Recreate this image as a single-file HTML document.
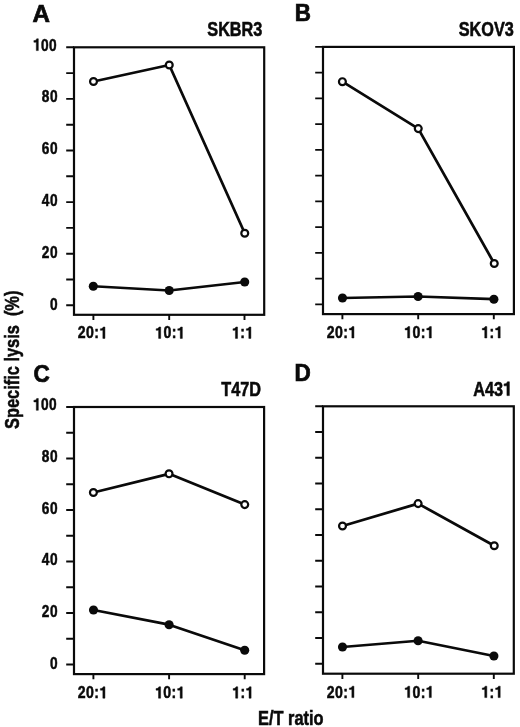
<!DOCTYPE html>
<html><head><meta charset="utf-8"><title>Figure</title>
<style>
html,body{margin:0;padding:0;background:#fff;}
svg{display:block;will-change:transform;opacity:.999;filter:blur(.4px)}
text{font-family:"Liberation Sans",sans-serif;font-weight:bold;fill:#0a0a0a}
.tk{font-size:16.2px;stroke:#0a0a0a;stroke-width:.5px}
.g1{fill:#0a0a0a;stroke:#0a0a0a;stroke-width:30}
.tk2{font-size:16.8px;stroke:#0a0a0a;stroke-width:.5px}
.pl{font-size:23px;stroke:#0a0a0a;stroke-width:.7px}
.tt{font-size:19.6px;stroke:#0a0a0a;stroke-width:.55px}
.ax{font-size:20px;stroke:#0a0a0a;stroke-width:.55px}
</style></head><body>
<svg width="520" height="727" viewBox="0 0 520 727">
<rect width="520" height="727" fill="#fff"/>
<rect x="74.0" y="47.3" width="190.20" height="267.50" fill="none" stroke="#0a0a0a" stroke-width="2.2"/>
<path d="M66.20 47.30H74.00M66.20 73.10H74.00M66.20 98.90H74.00M66.20 124.70H74.00M66.20 150.50H74.00M66.20 176.30H74.00M66.20 202.10H74.00M66.20 227.90H74.00M66.20 253.70H74.00M66.20 279.50H74.00M66.20 305.30H74.00M93.40 314.80V320.00M169.20 314.80V320.00M244.50 314.80V320.00" stroke="#0a0a0a" stroke-width="1.9" fill="none"/>
<polyline points="93.5,81.5 169.25,65.0 244.75,233.25" fill="none" stroke="#0a0a0a" stroke-width="2.75" stroke-linejoin="round"/>
<circle cx="93.5" cy="81.5" r="3.45" fill="#fff" stroke="#0a0a0a" stroke-width="2.2"/>
<circle cx="169.25" cy="65.0" r="3.45" fill="#fff" stroke="#0a0a0a" stroke-width="2.2"/>
<circle cx="244.75" cy="233.25" r="3.45" fill="#fff" stroke="#0a0a0a" stroke-width="2.2"/>
<polyline points="93.3,286.25 169.2,290.5 244.7,282.0" fill="none" stroke="#0a0a0a" stroke-width="2.75" stroke-linejoin="round"/>
<circle cx="93.3" cy="286.25" r="4.55" fill="#0a0a0a"/>
<circle cx="169.2" cy="290.5" r="4.55" fill="#0a0a0a"/>
<circle cx="244.7" cy="282.0" r="4.55" fill="#0a0a0a"/>
<g transform="translate(92.50 338.40) scale(0.87 1)"><path class="g1" transform="translate(7.93 0) scale(0.01620 -0.01620)" d="M393 0H245V498H69V597C167 597 252 625 275 704H393Z"/><text class="tk" x="-16.94 -7.44 2.05" y="0">20:</text></g>
<g transform="translate(169.90 338.40) scale(0.87 1)"><path class="g1" transform="translate(-16.94 0) scale(0.01620 -0.01620)" d="M393 0H245V498H69V597C167 597 252 625 275 704H393Z"/><path class="g1" transform="translate(7.93 0) scale(0.01620 -0.01620)" d="M393 0H245V498H69V597C167 597 252 625 275 704H393Z"/><text class="tk" x="-7.44 2.05" y="0">0:</text></g>
<g transform="translate(242.60 338.40) scale(0.87 1)"><path class="g1" transform="translate(-12.19 0) scale(0.01620 -0.01620)" d="M393 0H245V498H69V597C167 597 252 625 275 704H393Z"/><path class="g1" transform="translate(3.18 0) scale(0.01620 -0.01620)" d="M393 0H245V498H69V597C167 597 252 625 275 704H393Z"/><text class="tk" x="-2.70" y="0">:</text></g>
<g transform="translate(56.60 50.60) scale(0.815 1)"><path class="g1" transform="translate(-29.03 0) scale(0.01680 -0.01680)" d="M393 0H245V498H69V597C167 597 252 625 275 704H393Z"/><text class="tk2" x="-19.19 -9.34" y="0">00</text></g>
<g transform="translate(57.50 102.40) scale(0.815 1)"><text class="tk2" x="-19.19 -9.34" y="0">80</text></g>
<g transform="translate(57.50 154.00) scale(0.815 1)"><text class="tk2" x="-19.19 -9.34" y="0">60</text></g>
<g transform="translate(57.50 205.70) scale(0.815 1)"><text class="tk2" x="-19.19 -9.34" y="0">40</text></g>
<g transform="translate(57.50 257.80) scale(0.815 1)"><text class="tk2" x="-19.19 -9.34" y="0">20</text></g>
<g transform="translate(57.50 309.50) scale(0.815 1)"><text class="tk2" x="-9.34" y="0">0</text></g>
<rect x="323.0" y="46.9" width="190.90" height="267.20" fill="none" stroke="#0a0a0a" stroke-width="2.2"/>
<path d="M315.20 46.90H323.00M315.20 72.65H323.00M315.20 98.40H323.00M315.20 124.15H323.00M315.20 149.90H323.00M315.20 175.65H323.00M315.20 201.40H323.00M315.20 227.15H323.00M315.20 252.90H323.00M315.20 278.65H323.00M315.20 304.40H323.00M342.40 314.10V319.30M418.20 314.10V319.30M493.80 314.10V319.30" stroke="#0a0a0a" stroke-width="1.9" fill="none"/>
<polyline points="342.4,81.7 418.25,128.6 494.25,263.5" fill="none" stroke="#0a0a0a" stroke-width="2.75" stroke-linejoin="round"/>
<circle cx="342.4" cy="81.7" r="3.45" fill="#fff" stroke="#0a0a0a" stroke-width="2.2"/>
<circle cx="418.25" cy="128.6" r="3.45" fill="#fff" stroke="#0a0a0a" stroke-width="2.2"/>
<circle cx="494.25" cy="263.5" r="3.45" fill="#fff" stroke="#0a0a0a" stroke-width="2.2"/>
<polyline points="342.5,298.0 418.1,296.5 493.9,299.2" fill="none" stroke="#0a0a0a" stroke-width="2.75" stroke-linejoin="round"/>
<circle cx="342.5" cy="298.0" r="4.55" fill="#0a0a0a"/>
<circle cx="418.1" cy="296.5" r="4.55" fill="#0a0a0a"/>
<circle cx="493.9" cy="299.2" r="4.55" fill="#0a0a0a"/>
<g transform="translate(341.50 338.00) scale(0.87 1)"><path class="g1" transform="translate(7.93 0) scale(0.01620 -0.01620)" d="M393 0H245V498H69V597C167 597 252 625 275 704H393Z"/><text class="tk" x="-16.94 -7.44 2.05" y="0">20:</text></g>
<g transform="translate(418.90 338.00) scale(0.87 1)"><path class="g1" transform="translate(-16.94 0) scale(0.01620 -0.01620)" d="M393 0H245V498H69V597C167 597 252 625 275 704H393Z"/><path class="g1" transform="translate(7.93 0) scale(0.01620 -0.01620)" d="M393 0H245V498H69V597C167 597 252 625 275 704H393Z"/><text class="tk" x="-7.44 2.05" y="0">0:</text></g>
<g transform="translate(491.90 338.00) scale(0.87 1)"><path class="g1" transform="translate(-12.19 0) scale(0.01620 -0.01620)" d="M393 0H245V498H69V597C167 597 252 625 275 704H393Z"/><path class="g1" transform="translate(3.18 0) scale(0.01620 -0.01620)" d="M393 0H245V498H69V597C167 597 252 625 275 704H393Z"/><text class="tk" x="-2.70" y="0">:</text></g>
<rect x="74.0" y="407.0" width="190.10" height="267.10" fill="none" stroke="#0a0a0a" stroke-width="2.2"/>
<path d="M66.20 407.00H74.00M66.20 432.75H74.00M66.20 458.50H74.00M66.20 484.25H74.00M66.20 510.00H74.00M66.20 535.75H74.00M66.20 561.50H74.00M66.20 587.25H74.00M66.20 613.00H74.00M66.20 638.75H74.00M66.20 664.50H74.00M93.40 674.10V679.30M169.10 674.10V679.30M244.70 674.10V679.30" stroke="#0a0a0a" stroke-width="1.9" fill="none"/>
<polyline points="93.4,492.5 169.05,473.8 244.75,504.6" fill="none" stroke="#0a0a0a" stroke-width="2.75" stroke-linejoin="round"/>
<circle cx="93.4" cy="492.5" r="3.45" fill="#fff" stroke="#0a0a0a" stroke-width="2.2"/>
<circle cx="169.05" cy="473.8" r="3.45" fill="#fff" stroke="#0a0a0a" stroke-width="2.2"/>
<circle cx="244.75" cy="504.6" r="3.45" fill="#fff" stroke="#0a0a0a" stroke-width="2.2"/>
<polyline points="93.5,610.0 169.1,624.7 244.7,650.3" fill="none" stroke="#0a0a0a" stroke-width="2.75" stroke-linejoin="round"/>
<circle cx="93.5" cy="610.0" r="4.55" fill="#0a0a0a"/>
<circle cx="169.1" cy="624.7" r="4.55" fill="#0a0a0a"/>
<circle cx="244.7" cy="650.3" r="4.55" fill="#0a0a0a"/>
<g transform="translate(92.50 698.20) scale(0.87 1)"><path class="g1" transform="translate(7.93 0) scale(0.01620 -0.01620)" d="M393 0H245V498H69V597C167 597 252 625 275 704H393Z"/><text class="tk" x="-16.94 -7.44 2.05" y="0">20:</text></g>
<g transform="translate(169.80 698.20) scale(0.87 1)"><path class="g1" transform="translate(-16.94 0) scale(0.01620 -0.01620)" d="M393 0H245V498H69V597C167 597 252 625 275 704H393Z"/><path class="g1" transform="translate(7.93 0) scale(0.01620 -0.01620)" d="M393 0H245V498H69V597C167 597 252 625 275 704H393Z"/><text class="tk" x="-7.44 2.05" y="0">0:</text></g>
<g transform="translate(242.80 698.20) scale(0.87 1)"><path class="g1" transform="translate(-12.19 0) scale(0.01620 -0.01620)" d="M393 0H245V498H69V597C167 597 252 625 275 704H393Z"/><path class="g1" transform="translate(3.18 0) scale(0.01620 -0.01620)" d="M393 0H245V498H69V597C167 597 252 625 275 704H393Z"/><text class="tk" x="-2.70" y="0">:</text></g>
<g transform="translate(56.60 410.30) scale(0.815 1)"><path class="g1" transform="translate(-29.03 0) scale(0.01680 -0.01680)" d="M393 0H245V498H69V597C167 597 252 625 275 704H393Z"/><text class="tk2" x="-19.19 -9.34" y="0">00</text></g>
<g transform="translate(57.50 462.00) scale(0.815 1)"><text class="tk2" x="-19.19 -9.34" y="0">80</text></g>
<g transform="translate(57.50 513.50) scale(0.815 1)"><text class="tk2" x="-19.19 -9.34" y="0">60</text></g>
<g transform="translate(57.50 565.10) scale(0.815 1)"><text class="tk2" x="-19.19 -9.34" y="0">40</text></g>
<g transform="translate(57.50 617.10) scale(0.815 1)"><text class="tk2" x="-19.19 -9.34" y="0">20</text></g>
<g transform="translate(57.50 668.70) scale(0.815 1)"><text class="tk2" x="-9.34" y="0">0</text></g>
<rect x="323.0" y="406.3" width="190.80" height="267.40" fill="none" stroke="#0a0a0a" stroke-width="2.2"/>
<path d="M315.20 406.30H323.00M315.20 432.05H323.00M315.20 457.80H323.00M315.20 483.55H323.00M315.20 509.30H323.00M315.20 535.05H323.00M315.20 560.80H323.00M315.20 586.55H323.00M315.20 612.30H323.00M315.20 638.05H323.00M315.20 663.80H323.00M342.40 673.70V678.90M418.20 673.70V678.90M493.80 673.70V678.90" stroke="#0a0a0a" stroke-width="1.9" fill="none"/>
<polyline points="342.5,526.0 418.1,503.6 494.25,545.75" fill="none" stroke="#0a0a0a" stroke-width="2.75" stroke-linejoin="round"/>
<circle cx="342.5" cy="526.0" r="3.45" fill="#fff" stroke="#0a0a0a" stroke-width="2.2"/>
<circle cx="418.1" cy="503.6" r="3.45" fill="#fff" stroke="#0a0a0a" stroke-width="2.2"/>
<circle cx="494.25" cy="545.75" r="3.45" fill="#fff" stroke="#0a0a0a" stroke-width="2.2"/>
<polyline points="342.5,647.0 418.1,640.75 493.9,656.0" fill="none" stroke="#0a0a0a" stroke-width="2.75" stroke-linejoin="round"/>
<circle cx="342.5" cy="647.0" r="4.55" fill="#0a0a0a"/>
<circle cx="418.1" cy="640.75" r="4.55" fill="#0a0a0a"/>
<circle cx="493.9" cy="656.0" r="4.55" fill="#0a0a0a"/>
<g transform="translate(341.50 697.60) scale(0.87 1)"><path class="g1" transform="translate(7.93 0) scale(0.01620 -0.01620)" d="M393 0H245V498H69V597C167 597 252 625 275 704H393Z"/><text class="tk" x="-16.94 -7.44 2.05" y="0">20:</text></g>
<g transform="translate(418.90 697.60) scale(0.87 1)"><path class="g1" transform="translate(-16.94 0) scale(0.01620 -0.01620)" d="M393 0H245V498H69V597C167 597 252 625 275 704H393Z"/><path class="g1" transform="translate(7.93 0) scale(0.01620 -0.01620)" d="M393 0H245V498H69V597C167 597 252 625 275 704H393Z"/><text class="tk" x="-7.44 2.05" y="0">0:</text></g>
<g transform="translate(491.90 697.60) scale(0.87 1)"><path class="g1" transform="translate(-12.19 0) scale(0.01620 -0.01620)" d="M393 0H245V498H69V597C167 597 252 625 275 704H393Z"/><path class="g1" transform="translate(3.18 0) scale(0.01620 -0.01620)" d="M393 0H245V498H69V597C167 597 252 625 275 704H393Z"/><text class="tk" x="-2.70" y="0">:</text></g>
<text class="pl" transform="translate(32.6 21.8) scale(1.05 1)">A</text>
<text class="pl" transform="translate(294.7 21.0) scale(0.975 1)">B</text>
<text class="pl" transform="translate(33.4 381.9) scale(0.98 1.05)">C</text>
<text class="pl" transform="translate(294.5 381.3) scale(0.98 1)">D</text>
<text class="tt" transform="translate(262.4 35.8) scale(0.83 1)" text-anchor="end">SKBR3</text>
<text class="tt" transform="translate(513.8 35.8) scale(0.83 1)" text-anchor="end">SKOV3</text>
<text class="tt" transform="translate(261 396) scale(0.83 1)" text-anchor="end">T47D</text>
<g transform="translate(512.00 395.60) scale(0.83 1)"><path class="g1" transform="translate(-10.90 0) scale(0.01960 -0.01960)" d="M393 0H245V498H69V597C167 597 252 625 275 704H393Z"/><text class="tt" x="-46.84 -32.69 -21.80" y="0">A43</text></g>
<text class="ax" transform="translate(290.8 724.8) scale(0.82 1)" text-anchor="middle">E/T ratio</text>
<text class="ax" transform="translate(19.2 359.8) rotate(-90) scale(0.82 1)" text-anchor="middle" xml:space="preserve">Specific lysis  (%)</text>
</svg>
</body></html>
